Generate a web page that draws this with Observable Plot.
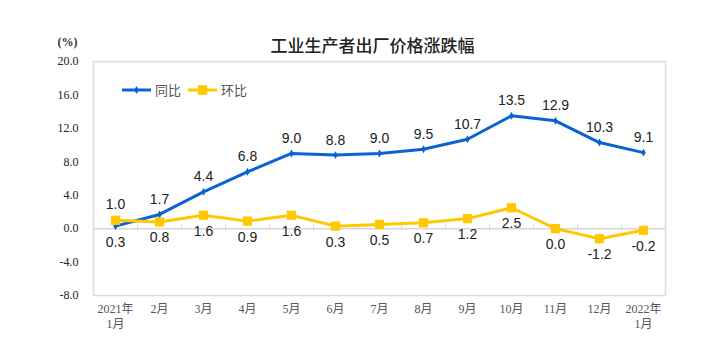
<!DOCTYPE html>
<html><head><meta charset="utf-8">
<script src="https://cdn.jsdelivr.net/npm/d3@7"></script>
<script src="https://cdn.jsdelivr.net/npm/@observablehq/plot@0.6"></script>
<style>body{margin:0;background:#fff;}</style>
</head><body><div id="chart"></div>
<script>
const months = ["2021年\n1月","2月","3月","4月","5月","6月","7月","8月","9月","10月","11月","12月","2022年\n1月"];
const yoy = [0.3,1.7,4.4,6.8,9.0,8.8,9.0,9.5,10.7,13.5,12.9,10.3,9.1];
const mom = [1.0,0.8,1.6,0.9,1.6,0.3,0.5,0.7,1.2,2.5,0.0,-1.2,-0.2];
const yTicks = [-8,-4,0,4,8,12,16,20];
const title = "工业生产者出厂价格涨跌幅";
const unit = "(%)";
const seriesNames = ["同比","环比"];
const blue = "#0b63d1", yellow = "#ffc800";

const yoyData = months.map((m,i)=>({m, v:yoy[i], below: i===0}));
const momData = months.map((m,i)=>({m, v:mom[i], below: i!==0}));
const serif = "'Liberation Serif','Times New Roman','Noto Sans CJK SC',serif";
const sans = "'Liberation Sans',Arial,sans-serif";
const step = 572/13;

const chart = Plot.plot({
  width:720, height:363,
  marginLeft:93, marginRight:55, marginTop:61, marginBottom:68,
  style:{background:"#fff"},
  x:{type:"point", domain:months, padding:0.5, label:null},
  y:{domain:[-8,20], label:null},
  marks:[
    Plot.frame({stroke:"#dcdcdc", strokeWidth:1.5}),
    Plot.ruleY([0], {stroke:"#d6d6d6", strokeWidth:1.5}),
    Plot.ruleX(months.slice(1), {x:d=>d, dx:-step/2, y1:0, y2:0.45, stroke:"#d6d6d6"}),
    Plot.axisY({ticks:yTicks, tickFormat:d=>d.toFixed(1), tickSize:0, tickPadding:15, fontFamily:serif, fontSize:12, fill:"#222", label:null}),
    Plot.axisX({tickSize:0, tickPadding:6, fontFamily:serif, fontSize:12, fill:"#555", lineHeight:1.3, label:null}),
    Plot.line(yoyData, {x:"m", y:"v", stroke:blue, strokeWidth:3}),
    Plot.dot(yoyData, {x:"m", y:"v", symbol:"diamond", r:2.4, fill:blue}),
    Plot.line(momData, {x:"m", y:"v", stroke:yellow, strokeWidth:3}),
    Plot.dot(momData, {x:"m", y:"v", symbol:"square", r:5.2, fill:yellow}),
    Plot.text(yoyData, {x:"m", y:"v", text:d=>d.v.toFixed(1), fontFamily:sans, fontSize:14, fill:"#222",
      filter:d=>!d.below, dy:-15}),
    Plot.text(yoyData, {x:"m", y:"v", text:d=>d.v.toFixed(1), fontFamily:sans, fontSize:14, fill:"#222",
      filter:d=>d.below, dy:16}),
    Plot.text(momData, {x:"m", y:"v", text:d=>d.v.toFixed(1), fontFamily:sans, fontSize:14, fill:"#222",
      filter:d=>d.below, dy:16}),
    Plot.text(momData, {x:"m", y:"v", text:d=>d.v.toFixed(1), fontFamily:sans, fontSize:14, fill:"#222",
      filter:d=>!d.below, dy:-16}),
    Plot.text([title], {frameAnchor:"top", lineAnchor:"middle", dx:-7, dy:-15, fontFamily:"'Noto Sans CJK SC',sans-serif", fontSize:17, fontWeight:500, fill:"#222"}),
    Plot.text([unit], {frameAnchor:"top-left", lineAnchor:"middle", dx:-16, dy:-19, textAnchor:"end", fontFamily:serif, fontSize:12, fontWeight:"bold", fill:"#333"})
  ]
});
document.getElementById("chart").append(chart);

// legend
const svg = d3.select(chart);
const lg = svg.append("g").attr("font-family","'Noto Sans CJK SC',sans-serif").attr("font-size",13).attr("fill","#555").attr("text-anchor","start");
const items = [{x:122, c:blue, sym:d3.symbolDiamond, size:18, name:seriesNames[0]},
               {x:188, c:yellow, sym:d3.symbolSquare, size:90, name:seriesNames[1]}];
items.forEach(it=>{
  lg.append("line").attr("x1",it.x).attr("x2",it.x+29).attr("y1",90).attr("y2",90).attr("stroke",it.c).attr("stroke-width",3);
  lg.append("path").attr("d",d3.symbol(it.sym,it.size)()).attr("transform",`translate(${it.x+14.5},90)`).attr("fill",it.c);
  lg.append("text").attr("x",it.x+33).attr("y",90).attr("dy","0.35em").text(it.name);
});
</script></body></html>
